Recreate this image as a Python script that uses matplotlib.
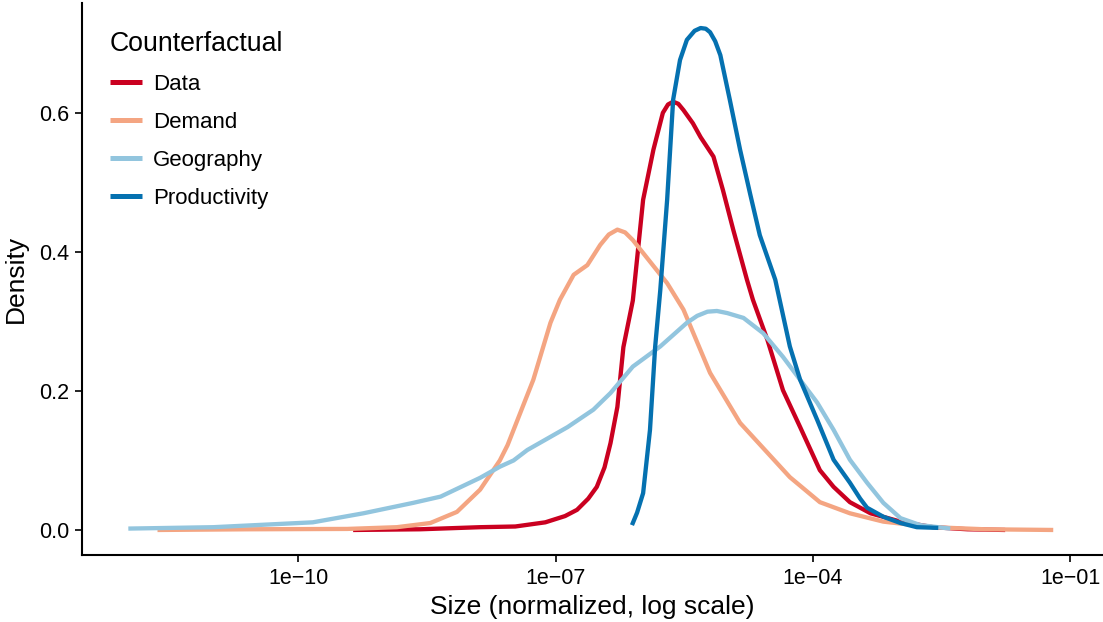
import matplotlib
matplotlib.use("Agg")
import matplotlib.pyplot as plt
import numpy as np

plt.rcParams["font.family"] = ["Liberation Sans", "DejaVu Sans"]

# density curves, x as log10(size)
DATA_LX = [-9.36, -8.58, -7.88, -7.47, -7.12, -6.89, -6.75, -6.62, -6.52, -6.43,
           -6.36, -6.28, -6.21, -6.10, -5.98, -5.86, -5.75, -5.69, -5.63, -5.57,
           -5.51, -5.40, -5.31, -5.16, -5.05, -4.93, -4.77, -4.70, -4.53, -4.35,
           -4.15, -3.92, -3.76, -3.57, -3.33, -2.98, -2.60, -2.20, -1.76]
DATA_Y = [0.000, 0.001, 0.004, 0.005, 0.011, 0.020, 0.029, 0.045, 0.062, 0.090,
          0.125, 0.177, 0.263, 0.330, 0.475, 0.547, 0.600, 0.612, 0.616, 0.613,
          0.604, 0.585, 0.565, 0.537, 0.489, 0.432, 0.360, 0.331, 0.273, 0.201,
          0.148, 0.086, 0.062, 0.040, 0.024, 0.012, 0.004, 0.001, 0.000]

DEMAND_LX = [-11.64, -10.59, -9.43, -8.85, -8.46, -8.15, -7.88, -7.65, -7.56, -7.26,
             -7.06, -6.95, -6.79, -6.63, -6.48, -6.38, -6.28, -6.19, -6.10, -5.90,
             -5.70, -5.51, -5.20, -4.85, -4.53, -4.27, -3.92, -3.57, -3.18, -2.60,
             -2.00, -1.20]
DEMAND_Y = [0.000, 0.001, 0.0015, 0.004, 0.010, 0.026, 0.058, 0.100, 0.122, 0.216,
            0.298, 0.331, 0.367, 0.381, 0.410, 0.425, 0.432, 0.428, 0.417, 0.386,
            0.355, 0.317, 0.226, 0.154, 0.111, 0.076, 0.040, 0.024, 0.012, 0.004,
            0.001, 0.000]

GEO_LX = [-11.98, -10.99, -9.83, -9.24, -8.66, -8.34, -7.88, -7.65, -7.49, -7.33,
          -6.86, -6.56, -6.36, -6.10, -5.78, -5.47, -5.35, -5.23, -5.12, -5.00,
          -4.81, -4.58, -4.35, -4.15, -3.95, -3.76, -3.57, -3.37, -3.18, -2.98,
          -2.75, -2.40]
GEO_Y = [0.002, 0.004, 0.011, 0.024, 0.039, 0.048, 0.075, 0.091, 0.100, 0.115,
         0.148, 0.173, 0.197, 0.235, 0.264, 0.298, 0.308, 0.314, 0.315, 0.312,
         0.305, 0.283, 0.249, 0.216, 0.183, 0.144, 0.101, 0.068, 0.039, 0.017,
         0.007, 0.002]

PROD_LX = [-6.11, -6.05, -5.98, -5.90, -5.84, -5.78, -5.70, -5.63, -5.55, -5.47,
           -5.38, -5.31, -5.25, -5.20, -5.14, -5.08, -4.97, -4.85, -4.73, -4.62,
           -4.44, -4.27, -4.15, -3.95, -3.76, -3.57, -3.45, -3.37, -3.18, -2.98,
           -2.79, -2.54]
PROD_Y = [0.007, 0.025, 0.053, 0.144, 0.263, 0.345, 0.475, 0.619, 0.676, 0.705,
          0.718, 0.722, 0.721, 0.716, 0.703, 0.683, 0.619, 0.547, 0.482, 0.424,
          0.360, 0.264, 0.216, 0.158, 0.101, 0.068, 0.045, 0.032, 0.019, 0.010,
          0.004, 0.003]

SERIES = [("Data", DATA_LX, DATA_Y, "#CA0020"),
          ("Demand", DEMAND_LX, DEMAND_Y, "#F4A582"),
          ("Geography", GEO_LX, GEO_Y, "#92C5DE"),
          ("Productivity", PROD_LX, PROD_Y, "#0571B0")]


def main(out):
    fig = plt.figure(figsize=(11.03, 6.22), dpi=100)
    ax = fig.add_axes([82 / 1103, 67 / 622, 1 - 82 / 1103, 1 - 70 / 622])

    for name, lx, y, c in SERIES:
        ax.plot(10.0 ** np.array(lx), y, color=c, lw=3.1, label=name,
                solid_capstyle="butt", solid_joinstyle="round")

    ax.set_xscale("log")
    ax.set_xlim(10 ** -12.52, 10 ** -0.62)
    ax.set_ylim(-0.036, 0.758)
    ax.set_xticks([1e-10, 1e-7, 1e-4, 1e-1])
    ax.set_xticklabels(["1e\u221210", "1e\u221207", "1e\u221204", "1e\u221201"])
    ax.minorticks_off()
    ax.set_yticks([0.0, 0.2, 0.4, 0.6])
    ax.set_yticklabels(["0.0", "0.2", "0.4", "0.6"])

    for s in ("top", "right"):
        ax.spines[s].set_visible(False)
    for s in ("left", "bottom"):
        ax.spines[s].set_linewidth(1.5)
    ax.tick_params(axis="both", length=5, width=1.2, labelsize=15.5,
                   colors="black", pad=4)

    ax.set_xlabel("Size (normalized, log scale)", fontsize=19, labelpad=5)
    ax.set_ylabel("Density", fontsize=19, labelpad=8)

    leg = ax.legend(title="Counterfactual", loc="upper left",
                    bbox_to_anchor=(110 / 1103, 1 - 31 / 622),
                    bbox_transform=fig.transFigure, frameon=False,
                    fontsize=16, title_fontsize=19.2, handlelength=1.45,
                    handletextpad=0.5, labelspacing=0.76, borderpad=0,
                    borderaxespad=0, alignment="left")
    for h in leg.get_lines():
        h.set_linewidth(3.6)

    fig.savefig(out, dpi=100)
    plt.close(fig)


if __name__ == "__main__":
    main("out.png")
